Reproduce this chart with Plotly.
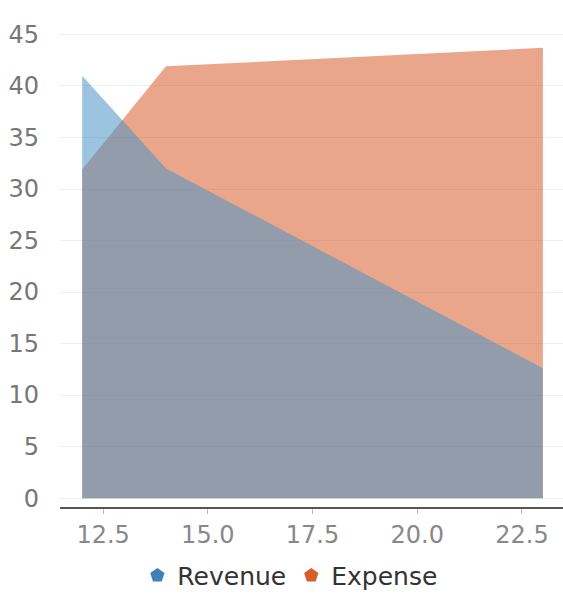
import plotly.graph_objects as go

x_vals = [12, 14, 23]
revenue = [41.0, 32.0, 12.6]
expense = [31.9, 41.9, 43.7]
series_names = ["Revenue", "Expense"]
y_ticks = [0, 5, 10, 15, 20, 25, 30, 35, 40, 45]
x_ticks = [12.5, 15.0, 17.5, 20.0, 22.5]

rev_solid = "rgb(62,128,184)"
exp_solid = "rgb(215,93,42)"
rev_fill = "rgba(75,147,198,0.55)"
exp_fill = "rgba(215,93,42,0.55)"

fig = go.Figure()
# expense drawn first, revenue on top
fig.add_trace(go.Scatter(x=x_vals, y=expense, mode="lines", fill="tozeroy",
                         fillcolor=exp_fill, line=dict(width=0, color=exp_fill),
                         showlegend=False, hoverinfo="x+y", name=series_names[1]))
fig.add_trace(go.Scatter(x=x_vals, y=revenue, mode="lines", fill="tozeroy",
                         fillcolor=rev_fill, line=dict(width=0, color=rev_fill),
                         showlegend=False, hoverinfo="x+y", name=series_names[0]))
# legend-only entries
fig.add_trace(go.Scatter(x=[None], y=[None], mode="markers", name=series_names[0],
                         marker=dict(symbol="pentagon", size=15, color=rev_solid)))
fig.add_trace(go.Scatter(x=[None], y=[None], mode="markers", name=series_names[1],
                         marker=dict(symbol="pentagon", size=15, color=exp_solid)))

fig.update_layout(
    width=563, height=599,
    margin=dict(l=60, r=0, t=20, b=82),
    paper_bgcolor="white", plot_bgcolor="white",
    font=dict(family="DejaVu Sans", size=24, color="#777777"),
    showlegend=True,
    legend=dict(orientation="h", x=0.457, xanchor="center", y=-0.141, yanchor="middle",
                font=dict(size=25, color="#333333"), itemwidth=30,
                bgcolor="rgba(0,0,0,0)"),
    xaxis=dict(range=[11.47, 23.48], tickvals=x_ticks, ticktext=[f"{v:.1f}" for v in x_ticks],
               showgrid=False, zeroline=False, showline=True, linecolor="#555555", linewidth=1.5,
               ticks="outside", ticklen=5, tickcolor="#bbbbbb", tickfont=dict(color="#888888")),
    yaxis=dict(range=[-0.86, 46.4], tickvals=y_ticks, showgrid=True, gridcolor="#eeeeee",
               zeroline=False, showline=False, ticks="", ticklabelstandoff=20,
               tickfont=dict(color="#777777")),
)

fig.write_html("out.html", config={"displayModeBar": False},
               post_script="document.body.style.margin='0';")
